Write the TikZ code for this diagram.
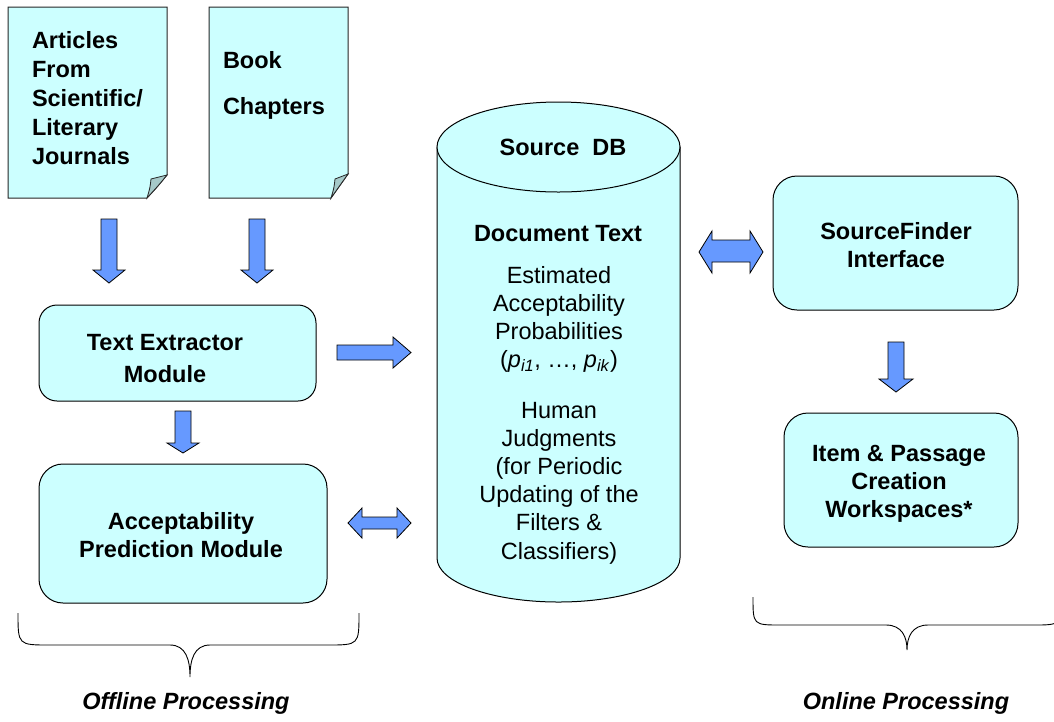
\documentclass[tikz,border=0pt]{standalone}
\usepackage{fontspec}
\setmainfont{Liberation Sans}
\definecolor{boxfill}{HTML}{CCFFFF}
\definecolor{arrowfill}{HTML}{6699FF}
\definecolor{foldfill}{HTML}{A6C9C9}
\begin{document}
\begin{tikzpicture}[x=1pt,y=-1pt,
  every node/.style={font=\fontsize{23.5}{28.2}\selectfont, inner sep=0pt, outer sep=0pt},
  rbox/.style={draw=black, line width=1pt, fill=boxfill},
  docshape/.style={draw=black!85, line width=1pt, fill=boxfill, line join=miter},
  foldshape/.style={draw=black!85, line width=0.8pt, fill=foldfill},
  blockarrow/.style={draw=black, line width=0.8pt, fill=arrowfill, line join=miter},
  bracestyle/.style={draw=black, line width=0.9pt},
  bt/.style={font=\fontsize{23.5}{28.2}\selectfont\bfseries, align=center},
  rt/.style={font=\fontsize{23.5}{28.2}\selectfont, align=center},
  lab/.style={font=\fontsize{23.5}{28.2}\selectfont\bfseries\itshape}]
\useasboundingbox (0,0) rectangle (1054,721);

% ---- documents
\path[docshape] (8,7) -- (167,7) -- (167,175) .. controls (158,186) .. (147,198) -- (8,198) -- cycle;
\path[foldshape] (147,198) .. controls (150,188) .. (151,179) .. controls (159,177) .. (167,175) .. controls (158,186) .. (147,198) -- cycle;
\node[bt, align=left, anchor=west, font=\fontsize{23.5}{29}\selectfont\bfseries] (doca) at (32,98) {Articles\\From\\Scientific/\\Literary\\Journals};

\path[docshape] (209,7) -- (348,7) -- (348,174) .. controls (339,186) .. (331,198) -- (209,198) -- cycle;
\path[foldshape] (331,198) .. controls (334,188) .. (335,179) .. controls (342,176) .. (348,174) .. controls (339,186) .. (331,198) -- cycle;
\node[bt, anchor=west] (docb1) at (223,60) {Book};
\node[bt, anchor=west] (docb2) at (223,108) {Chapters};

% ---- left boxes
\node[rbox, rounded corners=18pt, minimum width=277pt, minimum height=96pt] (te) at (177.5,353) {};
\node[bt] (tetext) at (165,358.5) {Text Extractor\\[3pt]Module};
\node[rbox, rounded corners=24pt, minimum width=288pt, minimum height=139pt] (ap) at (183,533.5) {};
\node[bt] (aptext) at (181,535) {Acceptability\\Prediction Module};

% ---- right boxes
\node[rbox, rounded corners=24pt, minimum width=245pt, minimum height=134pt] (sf) at (895.5,243) {};
\node[bt] (sftext) at (896,245) {SourceFinder\\Interface};
\node[rbox, rounded corners=24pt, minimum width=234pt, minimum height=134pt] (ip) at (901,480) {};
\node[bt] (iptext) at (899,483.5) {Item \& Passage\\Creation\\Workspaces*};

% ---- cylinder
\path[rbox] (437,147) -- (437,558) .. controls (437,582.3) and (491.4,602) .. (558.5,602)
  .. controls (625.6,602) and (680,582.3) .. (680,558) -- (680,147) -- cycle;
\path[rbox] (558.5,147) ellipse [x radius=121.5, y radius=45];
\node[bt] (srcdb) at (563,147) {Source\ \ DB};
\node[bt] (doctext) at (558,234) {Document Text};
\node[rt] (est) at (559,319.5) {Estimated\\Acceptability\\Probabilities\\(\textit{p}\textsubscript{\textit{i1}}, \ldots, \textit{p}\textsubscript{\textit{ik}})};
\node[rt] (hum) at (559,483) {Human\\Judgments\\(for Periodic\\Updating of the\\Filters \&\\Classifiers)};

% ---- block arrows
% docs -> text extractor
\path[blockarrow] (101,219) -- (117,219) -- (117,270) -- (125,270) -- (109,283) -- (93,270) -- (101,270) -- cycle;
\path[blockarrow] (249,219) -- (265,219) -- (265,270) -- (273,270) -- (257,283) -- (241,270) -- (249,270) -- cycle;
% text extractor -> acceptability
\path[blockarrow] (175,411) -- (191,411) -- (191,443) -- (199,443) -- (183,453) -- (167,443) -- (175,443) -- cycle;
% text extractor -> source db
\path[blockarrow] (337,345) -- (393,345) -- (393,337) -- (411,352.5) -- (393,368) -- (393,360) -- (337,360) -- cycle;
% acceptability <-> source db
\path[blockarrow] (348,523) -- (362,508) -- (362,517) -- (397,517) -- (397,508) -- (411,523)
  -- (397,538) -- (397,529) -- (362,529) -- (362,538) -- cycle;
% source db <-> sourcefinder
\path[blockarrow] (699,252) -- (712,231) -- (712,240) -- (750,240) -- (750,231) -- (763,252)
  -- (750,273) -- (750,262) -- (712,262) -- (712,273) -- cycle;
% sourcefinder -> item
\path[blockarrow] (888,342) -- (904,342) -- (904,379) -- (913,379) -- (896,392) -- (879,379) -- (888,379) -- cycle;

% ---- braces
\path[bracestyle] (18,613) .. controls (18,645) .. (50,645) -- (170,645)
  .. controls (186,645) and (190,660) .. (190,677)
  .. controls (190,660) and (194,645) .. (210,645) -- (327,645)
  .. controls (359,645) .. (359,613);
\path[bracestyle] (753,597) .. controls (753,625) .. (781,625) -- (886,625)
  .. controls (902,625) and (907,637) .. (907,650)
  .. controls (907,637) and (912,625) .. (928,625) -- (1033,625)
  .. controls (1061,625) .. (1061,597);

\node[lab] (offline) at (186,703) {Offline Processing};
\node[lab] (online) at (906,703) {Online Processing};
\end{tikzpicture}
\end{document}
